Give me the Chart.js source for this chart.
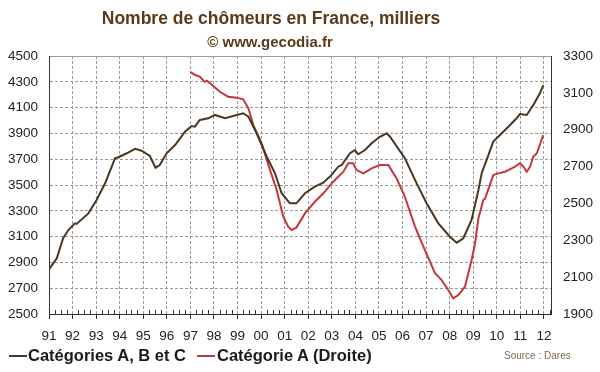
<!DOCTYPE html>
<html>
<head>
<meta charset="utf-8">
<script src="https://cdn.jsdelivr.net/npm/chart.js@4"></script>
<style>
  body { margin: 0; background: #fff; }
  #wrap { position: relative; width: 600px; height: 372px; font-family: "Liberation Sans", Arial, sans-serif; }
  .t { position: absolute; white-space: nowrap; transform: translateX(-50%); color: #5b3a1a; font-weight: bold; }
  .leg { position: absolute; font-weight: bold; font-size: 16.5px; color: #1a1a1a; white-space: nowrap; }
  .ln { position: absolute; height: 2px; }
</style>
</head>
<body>
<div id="wrap">
  <canvas id="canvas1" width="600" height="372"></canvas>
  <div class="t" style="left:271px;top:8px;font-size:17.5px">Nombre de chômeurs en France, milliers</div>
  <div class="t" style="left:270px;top:33px;font-size:15px">© www.gecodia.fr</div>
  <div class="ln" style="left:9px;top:355px;width:18px;background:#4b3621"></div>
  <div class="leg" style="left:28px;top:346px">Catégories A, B et C</div>
  <div class="ln" style="left:197px;top:355px;width:18px;background:#c4373a"></div>
  <div class="leg" style="left:217px;top:346px">Catégorie A (Droite)</div>
  <div style="position:absolute;left:504px;top:350px;font-size:10px;color:#7a6a50">Source : Dares</div>
</div>
<script>
// Catégories A, B et C (axe gauche)
var abcYears = [1991.0, 1991.33, 1991.6, 1991.82, 1992.1, 1992.17, 1992.67, 1993.02, 1993.38, 1993.8,
  1993.94, 1994.3, 1994.65, 1994.93, 1995.28, 1995.52, 1995.7, 1995.99, 1996.35, 1996.77,
  1997.05, 1997.19, 1997.4, 1997.76, 1998.04, 1998.47, 1999.24, 1999.46, 1999.81, 2000.24,
  2000.59, 2000.87, 2001.22, 2001.5, 2001.86, 2002.28, 2002.64, 2002.99, 2003.27, 2003.42,
  2003.77, 2003.98, 2004.12, 2004.41, 2004.69, 2005.04, 2005.33, 2005.47, 2006.1, 2006.6,
  2007.02, 2007.52, 2008.01, 2008.3, 2008.58, 2008.93, 2009.22, 2009.36, 2009.57, 2009.85,
  2010.21, 2010.49, 2010.84, 2010.98, 2011.27, 2011.55, 2011.83, 2011.97];
var abcValues = [2846, 2932, 3087, 3151, 3203, 3198, 3280, 3384, 3513, 3707,
  3715, 3746, 3781, 3766, 3725, 3634, 3655, 3746, 3810, 3913,
  3957, 3952, 4004, 4017, 4043, 4017, 4056, 4030, 3901, 3719,
  3591, 3436, 3358, 3358, 3436, 3487, 3518, 3578, 3642, 3655,
  3746, 3771, 3738, 3771, 3823, 3874, 3901, 3874, 3707, 3513,
  3358, 3203, 3099, 3053, 3087, 3229, 3461, 3591, 3694, 3836,
  3901, 3952, 4017, 4050, 4043, 4120, 4211, 4275];

// Catégorie A (axe droit)
var aYears = [1997.0, 1997.2, 1997.4, 1997.6, 1997.7, 1997.97, 1998.25, 1998.6, 1998.96, 1999.24,
  1999.46, 1999.67, 2000.02, 2000.38, 2000.66, 2000.94, 2001.15, 2001.3, 2001.5, 2001.86,
  2002.28, 2002.64, 2003.06, 2003.27, 2003.49, 2003.7, 2003.91, 2004.05, 2004.34, 2004.69,
  2005.04, 2005.4, 2005.75, 2006.1, 2006.53, 2006.95, 2007.38, 2007.66, 2007.94, 2008.15,
  2008.37, 2008.65, 2008.93, 2009.08, 2009.22, 2009.43, 2009.5, 2009.85, 2010.06, 2010.35,
  2010.63, 2010.77, 2010.98, 2011.13, 2011.27, 2011.41, 2011.55, 2011.7, 2011.97];
var aValues = [3212, 3197, 3188, 3160, 3166, 3137, 3106, 3079, 3074, 3065,
  3016, 2925, 2826, 2681, 2573, 2428, 2374, 2356, 2370, 2446,
  2509, 2555, 2618, 2645, 2672, 2718, 2718, 2681, 2663, 2690,
  2708, 2708, 2636, 2536, 2374, 2247, 2121, 2084, 2030, 1985,
  2003, 2048, 2193, 2284, 2420, 2519, 2525, 2654, 2663, 2672,
  2690, 2699, 2718, 2699, 2672, 2699, 2754, 2772, 2871];

var leftTicks = { min: 2500, max: 4500, step: 200 };
var rightTicks = { min: 1900, max: 3300, step: 200 };

function toPoints(xs, ys) {
    return xs.map(function (x, i) { return { x: x, y: ys[i] }; });
}

// petits traits trimestriels sur l'axe des x
var minorTicks = {
    id: 'minorTicks',
    afterDraw: function (chart) {
        var sx = chart.scales.x, c = chart.ctx, b = chart.chartArea.bottom;
        c.save();
        c.strokeStyle = '#333';
        c.lineWidth = 1;
        c.beginPath();
        for (var y = 1991; y < 2013; y++) {
            [0.25, 0.5, 0.75].forEach(function (q) {
                if (y + q > sx.max) return;
                var px = Math.round(sx.getPixelForValue(y + q)) + 0.5;
                c.moveTo(px, b);
                c.lineTo(px, b - 4);
            });
        }
        c.stroke();
        c.restore();
    }
};

var tickFont = { family: '"Liberation Sans", Arial, sans-serif', size: 13.5 };
var gridColor = '#9a9a9a';
var plain = function (v) { return String(v); };

var ctx = document.getElementById('canvas1').getContext('2d');
var chart = new Chart(ctx, {
    type: 'line',
    data: {
        datasets: [{
            label: 'Catégories A, B et C',
            data: toPoints(abcYears, abcValues),
            borderColor: '#4b3621',
            yAxisID: 'y'
        }, {
            label: 'Catégorie A (Droite)',
            data: toPoints(aYears, aValues),
            borderColor: '#c4373a',
            yAxisID: 'y2'
        }]
    },
    options: {
        responsive: false,
        animation: false,
        layout: { padding: { top: 56, bottom: 18, left: 0, right: 0 } },
        elements: {
            point: { radius: 0 },
            line: { borderWidth: 2, tension: 0 }
        },
        plugins: {
            legend: { display: false },
            tooltip: { enabled: false }
        },
        scales: {
            x: {
                type: 'linear',
                min: 1991,
                max: 2012.3,
                afterFit: function (s) { s.height = 40; },
                ticks: {
                    stepSize: 1,
                    includeBounds: false,
                    padding: 9,
                    color: '#222',
                    font: tickFont,
                    maxRotation: 0,
                    callback: function (v) { return String(v % 100).padStart(2, '0'); }
                },
                grid: { color: gridColor, lineWidth: 1, tickColor: '#333', tickLength: 5 },
                border: { color: '#333', dash: [3, 2] }
            },
            y: {
                position: 'left',
                min: leftTicks.min,
                max: leftTicks.max,
                afterFit: function (s) { s.width = 49; },
                ticks: { stepSize: leftTicks.step, padding: 11, color: '#222', font: tickFont, callback: plain },
                grid: { color: gridColor, lineWidth: 1, drawTicks: false },
                border: {
                    color: '#333',
                    dash: function (c) { return c.tick && c.tick.value === leftTicks.max ? [] : [3, 2]; }
                }
            },
            y2: {
                position: 'right',
                min: rightTicks.min,
                max: rightTicks.max,
                afterFit: function (s) { s.width = 49; },
                ticks: { stepSize: rightTicks.step, padding: 12, color: '#222', font: tickFont, callback: plain },
                grid: { drawOnChartArea: false, drawTicks: false },
                border: { color: '#333' }
            }
        }
    },
    plugins: [minorTicks]
});
</script>
</body>
</html>
